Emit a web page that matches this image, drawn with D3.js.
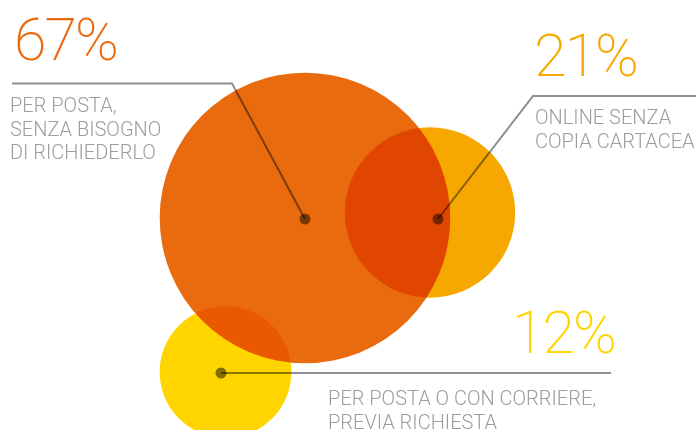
<!DOCTYPE html>
<html><head><meta charset="utf-8">
<script src="https://cdn.jsdelivr.net/npm/d3@7"></script>
<style>
html,body{margin:0;padding:0;background:#fff;}
svg{display:block;}
</style></head>
<body>
<svg id="chart" width="696" height="430"></svg>
<script>
const categories = ["PER POSTA, SENZA BISOGNO DI RICHIEDERLO", "ONLINE SENZA COPIA CARTACEA", "PER POSTA O CON CORRIERE, PREVIA RICHIESTA"];
const values = [67, 21, 12];
const valueLabels = ["67%", "21%", "12%"];
const labelLines = [["PER POSTA,", "SENZA BISOGNO", "DI RICHIEDERLO"], ["ONLINE SENZA", "COPIA CARTACEA"], ["PER POSTA O CON CORRIERE,", "PREVIA RICHIESTA"]];
const colors = ["#EA6A0E", "#F6A800", "#FFD500"];

const svg = d3.select("#chart");
const r = d3.scalePow().exponent(0.46).domain([0, 67]).range([0, 145.3]);

// layout
const centers = [[305, 218], [430, 212.5], [225.5, 372]];
const dots = [[305, 219], [438, 219], [221, 373]];
const leaders = [
  [[12, 83.5], [232, 83.5]],
  [[696, 96], [533, 96]],
  [[611, 373], [611, 373]]
];
const numPos = [[14, 60], [534, 76], [512, 353]];
const labelPos = [[10, 112], [535, 124], [328, 405]];

const g = svg.append("g");
g.selectAll("circle.bubble").data(values).join("circle")
  .attr("class", "bubble")
  .attr("cx", (d, i) => centers[i][0])
  .attr("cy", (d, i) => centers[i][1])
  .attr("r", d => r(d))
  .attr("fill", (d, i) => colors[i])
  .style("mix-blend-mode", "multiply");

const lineGen = d3.line();
g.selectAll("path.leader").data(values).join("path")
  .attr("class", "leader")
  .attr("d", (d, i) => lineGen([...leaders[i], dots[i]]))
  .attr("fill", "none")
  .attr("stroke", "#8b8e93")
  .attr("stroke-width", 2)
  .style("mix-blend-mode", "multiply");

g.selectAll("circle.dot").data(values).join("circle")
  .attr("class", "dot")
  .attr("cx", (d, i) => dots[i][0])
  .attr("cy", (d, i) => dots[i][1])
  .attr("r", 5.5)
  .attr("fill", "#848180")
  .style("mix-blend-mode", "multiply");

svg.selectAll("text.num").data(valueLabels).join("text")
  .attr("class", "num")
  .attr("x", (d, i) => numPos[i][0])
  .attr("y", (d, i) => numPos[i][1])
  .attr("fill", (d, i) => colors[i])
  .style("font-family", "Roboto, 'DejaVu Sans', sans-serif")
  .style("font-weight", 200)
  .style("font-size", "59px")
  .style("letter-spacing", "-2px")
  .text(d => d);

labelLines.forEach((lines, i) => {
  const t = svg.append("text")
    .attr("x", labelPos[i][0])
    .attr("y", labelPos[i][1])
    .attr("fill", "#9a9da1")
    .style("font-family", "Roboto, 'DejaVu Sans', sans-serif")
    .style("font-weight", 300)
    .style("font-size", "20px");
  lines.forEach((l, j) => {
    t.append("tspan").attr("x", labelPos[i][0]).attr("dy", j === 0 ? 0 : 23.5).text(l);
  });
});
</script>
</body></html>
